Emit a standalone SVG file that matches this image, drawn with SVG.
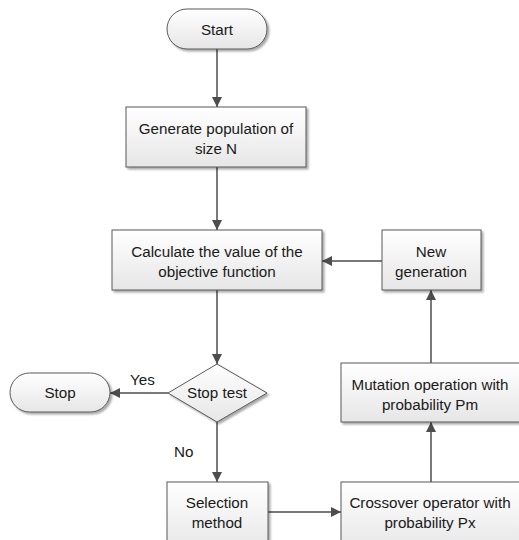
<svg xmlns="http://www.w3.org/2000/svg" width="519" height="540" viewBox="0 0 519 540">
<defs>
<linearGradient id="g" x1="0" y1="0" x2="0" y2="1">
<stop offset="0" stop-color="#ffffff"/>
<stop offset="1" stop-color="#e6e6e6"/>
</linearGradient>
<filter id="sh" x="-10%" y="-10%" width="130%" height="140%">
<feGaussianBlur in="SourceAlpha" stdDeviation="1"/>
<feOffset dx="2" dy="2" result="b"/>
<feComponentTransfer><feFuncA type="linear" slope="0.35"/></feComponentTransfer>
<feMerge><feMergeNode/><feMergeNode in="SourceGraphic"/></feMerge>
</filter>
<marker id="ah" viewBox="0 0 10 10" refX="10" refY="5" markerWidth="10" markerHeight="10" markerUnits="userSpaceOnUse" orient="auto">
<path d="M0,0 L10,5 L0,10 z" fill="#4d4d4d"/>
</marker>
</defs>
<style>
.s{fill:url(#g);stroke:#595959;stroke-width:1;filter:url(#sh)}
.t{font-family:"Liberation Sans",Arial,sans-serif;font-size:15.2px;fill:#1a1a1a;text-anchor:middle}
.c{fill:none;stroke:#4d4d4d;stroke-width:1.5;marker-end:url(#ah)}
.l{font-family:"Liberation Sans",Arial,sans-serif;font-size:15.2px;fill:#1a1a1a}
</style>
<g id="connectors">
<path class="c" d="M217,49 V107"/>
<path class="c" d="M217,167 V230"/>
<path class="c" d="M217,290 V364"/>
<path class="c" d="M168,393 H110"/>
<path class="c" d="M217,422 V482"/>
<path class="c" d="M268,512 H341"/>
<path class="c" d="M431,482 V422"/>
<path class="c" d="M431,363 V290"/>
<path class="c" d="M382,261 H322"/>
<text class="l" x="130" y="385">Yes</text>
<text class="l" x="174" y="457">No</text>
</g>
<g id="start">
<rect class="s" x="167" y="9" width="100" height="40" rx="20"/>
<text class="t" x="217" y="35">Start</text>
</g>
<g id="generate">
<rect class="s" x="126" y="107" width="180" height="60"/>
<text class="t" x="216" y="134">Generate population of</text>
<text class="t" x="216" y="154">size N</text>
</g>
<g id="calculate">
<rect class="s" x="112" y="230" width="210" height="60"/>
<text class="t" x="217" y="257">Calculate the value of the</text>
<text class="t" x="217" y="277">objective function</text>
</g>
<g id="newgen">
<rect class="s" x="382" y="230" width="99" height="60"/>
<text class="t" x="431" y="257">New</text>
<text class="t" x="431" y="277">generation</text>
</g>
<g id="stoptest">
<path class="s" d="M168,393 L217,364 L267,393 L217,422 Z"/>
<text class="t" x="217" y="398">Stop test</text>
</g>
<g id="stop">
<rect class="s" x="10" y="373" width="100" height="39" rx="19.5"/>
<text class="t" x="60" y="398">Stop</text>
</g>
<g id="mutation">
<rect class="s" x="341" y="363" width="182" height="59"/>
<text class="t" x="430" y="390">Mutation operation with</text>
<text class="t" x="430" y="410">probability Pm</text>
</g>
<g id="selection">
<rect class="s" x="167" y="482" width="101" height="70"/>
<text class="t" x="217" y="508">Selection</text>
<text class="t" x="217" y="528">method</text>
</g>
<g id="crossover">
<rect class="s" x="341" y="482" width="182" height="70"/>
<text class="t" x="430" y="508">Crossover operator with</text>
<text class="t" x="430" y="528">probability Px</text>
</g>
</svg>
